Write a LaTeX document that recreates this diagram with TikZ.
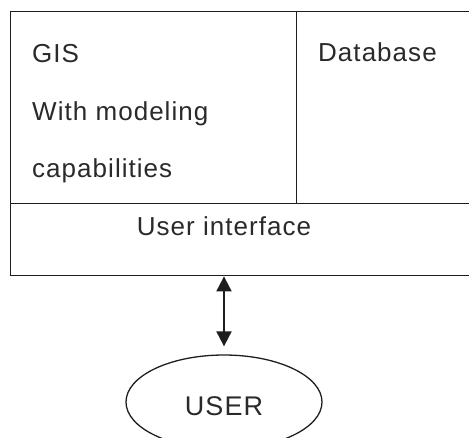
\documentclass[tikz,border=0pt]{standalone}
\usepackage{fontspec}
\setmainfont{Liberation Sans}[LetterSpace=4]
\usepackage{tikz}
\usetikzlibrary{arrows.meta,shapes.geometric}
\definecolor{ink}{HTML}{1E1E1E}
\definecolor{txt}{HTML}{2A2A2A}
\tikzset{
  part/.style={draw=ink, line width=1.4pt, rectangle, inner sep=0pt, anchor=north west},
  lab/.style={text=txt, font=\fontsize{26}{30}\selectfont, inner sep=0pt, anchor=base west},
  labc/.style={lab, anchor=base},
  actor/.style={draw=ink, line width=1.3pt, ellipse, inner sep=0pt,
    minimum width=196pt, minimum height=94pt},
  link/.style={draw=ink, line width=2pt,
    {Triangle[length=15pt,width=15pt]}-{Triangle[length=15pt,width=15pt]}},
}

\begin{document}
\begin{tikzpicture}[x=1pt,y=-1pt]
  \useasboundingbox (0,0) rectangle (469,437);
  \clip (0,0) rectangle (469,437);

  % system blocks
  \node[part, minimum width=286pt, minimum height=192pt] (gis) at (10,11) {};
  \node[part, minimum width=200pt, minimum height=192pt] (db) at (296,11) {};
  \node[part, minimum width=486pt, minimum height=72pt] (ui) at (10,203) {};

  \node[lab] (gist) at (32,62) {GIS};
  \node[lab] (gism) at (32,120) {With modeling};
  \node[lab] (gisc) at (32,177) {capabilities};
  \node[lab] (dbt) at (318,61) {Database};
  \node[labc] (uit) at (224,235) {User interface};

  % the user
  \node[actor] (user) at (224,402) {};
  \node[labc, font=\fontsize{27}{30}\selectfont] (usert) at (224,415) {USER};

  \draw[link, shorten >=8pt] (user.north |- ui.south) -- (user.north);
\end{tikzpicture}
\end{document}
